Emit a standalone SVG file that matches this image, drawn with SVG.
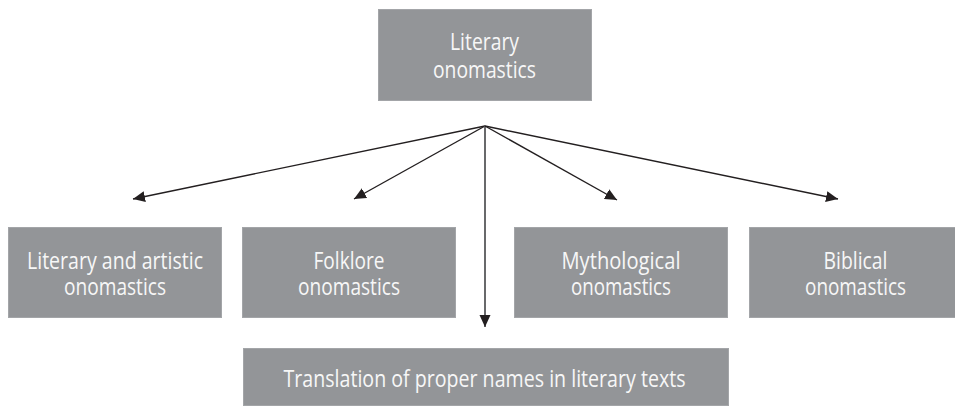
<svg xmlns="http://www.w3.org/2000/svg" width="955" height="406" viewBox="0 0 955 406">
  <style>
    .box { fill: #939598; stroke: #a3a5a8; stroke-width: 1; }
    .lbl { font-family: "Open Sans", "Noto Sans", sans-serif; font-size: 24px; fill: #f7f7f7; text-anchor: middle; }
    .conn { stroke: #231f20; stroke-width: 1.4; fill: none; }
    .vert { stroke: #58595b; stroke-width: 1.8; fill: none; }
  </style>
  <defs>
    <marker id="arr" markerUnits="userSpaceOnUse" markerWidth="13" markerHeight="12" refX="12" refY="6" orient="auto">
      <path d="M0,0.5 L12,6 L0,11.5 z" fill="#231f20"/>
    </marker>
  </defs>
  <rect width="955" height="406" fill="#ffffff"/>

  <g id="connectors">
    <line class="conn" x1="485" y1="126" x2="133" y2="199" marker-end="url(#arr)"/>
    <line class="conn" x1="485" y1="126" x2="354" y2="199" marker-end="url(#arr)"/>
    <line class="vert" x1="485" y1="126" x2="485" y2="327" marker-end="url(#arr)"/>
    <line class="conn" x1="485" y1="126" x2="617" y2="200" marker-end="url(#arr)"/>
    <line class="conn" x1="485" y1="126" x2="838" y2="199" marker-end="url(#arr)"/>
  </g>

  <g id="node-literary">
    <rect class="box" x="378.5" y="9.5" width="213" height="91"/>
    <text class="lbl" x="484.5" y="50" textLength="69" lengthAdjust="spacingAndGlyphs">Literary</text>
    <text class="lbl" x="484.5" y="78" textLength="103" lengthAdjust="spacingAndGlyphs">onomastics</text>
  </g>

  <g id="node-artistic">
    <rect class="box" x="8.5" y="227.5" width="213" height="90"/>
    <text class="lbl" x="115" y="269" textLength="176" lengthAdjust="spacingAndGlyphs">Literary and artistic</text>
    <text class="lbl" x="115" y="295" textLength="102" lengthAdjust="spacingAndGlyphs">onomastics</text>
  </g>

  <g id="node-folklore">
    <rect class="box" x="242.5" y="227.5" width="213" height="90"/>
    <text class="lbl" x="349" y="269" textLength="71" lengthAdjust="spacingAndGlyphs">Folklore</text>
    <text class="lbl" x="349" y="295" textLength="102" lengthAdjust="spacingAndGlyphs">onomastics</text>
  </g>

  <g id="node-mythological">
    <rect class="box" x="514.5" y="227.5" width="213" height="90"/>
    <text class="lbl" x="621" y="269" textLength="119" lengthAdjust="spacingAndGlyphs">Mythological</text>
    <text class="lbl" x="621" y="295" textLength="100" lengthAdjust="spacingAndGlyphs">onomastics</text>
  </g>

  <g id="node-biblical">
    <rect class="box" x="749.5" y="227.5" width="213" height="90"/>
    <text class="lbl" x="855.5" y="269" textLength="64" lengthAdjust="spacingAndGlyphs">Biblical</text>
    <text class="lbl" x="855.5" y="295" textLength="101" lengthAdjust="spacingAndGlyphs">onomastics</text>
  </g>

  <g id="node-translation">
    <rect class="box" x="243.5" y="348.5" width="485" height="57"/>
    <text class="lbl" x="484.5" y="387" textLength="402" lengthAdjust="spacingAndGlyphs">Translation of proper names in literary texts</text>
  </g>
</svg>
